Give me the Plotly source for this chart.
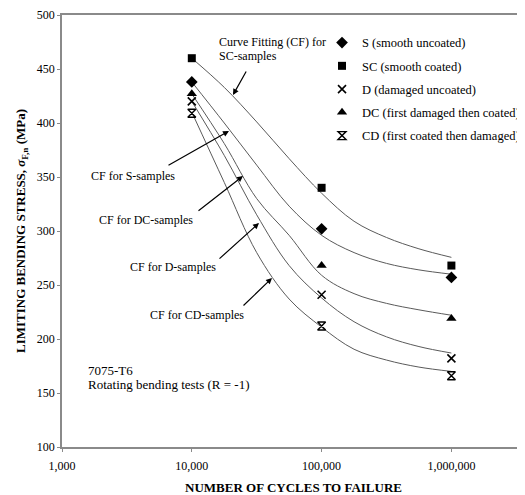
import plotly.graph_objects as go

# ---- data ----
cycles = [1e4, 1e5, 1e6]
S_pts = [438, 302, 257]
SC_pts = [460, 340, 268]
D_pts = [420, 241, 182]
DC_pts = [427, 268, 219]
CD_pts = [409, 212, 166]

# curve-fit lines (log10 N grid)
fit_logN = [4.0, 4.25, 4.5, 4.75, 5.0, 5.25, 5.5, 5.75, 6.0]
S_fit = [438, 400, 361, 323, 296, 280, 270, 264, 260]
SC_fit = [460, 433, 401, 367, 335, 309, 294, 283.5, 275.6]
D_fit = [420, 370, 315, 268, 238, 216, 202, 193, 187]
DC_fit = [427, 381, 330, 296, 259, 242, 233, 227, 222]
CD_fit = [410, 345, 280, 237, 211, 190.5, 180.5, 174, 170]

x_tickvals = [1e3, 1e4, 1e5, 1e6]
x_ticktext = ["1,000", "10,000", "100,000", "1,000,000"]
y_tickvals = [100, 150, 200, 250, 300, 350, 400, 450, 500]

series = [
    ("S (smooth uncoated)", S_pts, S_fit, "diamond", 9, 0),
    ("SC (smooth coated)", SC_pts, SC_fit, "square", 8, 0),
    ("D (damaged uncoated)", D_pts, D_fit, "x-thin-open", 8, 1.6),
    ("DC (first damaged then coated)", DC_pts, DC_fit, "triangle-up", 9, 0),
    ("CD (first coated then damaged)", CD_pts, CD_fit, "hourglass-open", 8, 1.4),
]

FONT = "Liberation Serif, Times New Roman, serif"

# page has an 8px body margin: the figure is drawn from (8, 8)
OFF = 8

fig = go.Figure()
fit_x = [10 ** v for v in fit_logN]
for name, pts, fit, sym, size, lw in series:
    fig.add_trace(go.Scatter(x=fit_x, y=fit, mode="lines", line=dict(color="#5a5a5a", width=1, shape="spline"),
                             showlegend=False, hoverinfo="skip"))
for i, (name, pts, fit, sym, size, lw) in enumerate(series):
    fig.add_trace(go.Scatter(x=cycles, y=pts, mode="markers", name=name, legendgroup="g%d" % i,
                             marker=dict(symbol=sym, size=size, color="black",
                                         line=dict(color="black", width=lw))))

# annotations (positions in window pixels converted to paper fractions)
W, H = 463.0, 432.0
def px(xp, yp):
    return (xp - 62) / W, (447 - yp) / H

texts = [
    ("Curve Fitting (CF) for", 217, 42, 12),
    ("SC-samples", 217, 56, 12),
    ("CF for S-samples", 89, 176, 12),
    ("CF for DC-samples", 97, 220, 12),
    ("CF for D-samples", 128, 267, 12),
    ("CF for CD-samples", 148, 315, 12),
    ("7075-T6", 86, 370, 13),
    ("Rotating bending tests (R = -1)", 86, 384, 13),
]
annotations = []
for t, xp, yp, fs in texts:
    xx, yy = px(xp, yp)
    annotations.append(dict(text=t, x=xx, y=yy, xref="paper", yref="paper", xanchor="left", yanchor="middle",
                            showarrow=False, font=dict(family=FONT, size=fs, color="black")))
arrows = [((233, 95), (247, 70)), ((229, 131), (167, 166)), ((243, 176), (197, 212)),
          ((259, 223), (218, 260)), ((272, 278), (242, 307))]
for (hx, hy), (tx, ty) in arrows:
    xx, yy = px(hx, hy)
    annotations.append(dict(text="", x=xx, y=yy, xref="paper", yref="paper", ax=tx - hx, ay=ty - hy,
                            showarrow=True, arrowhead=2, arrowsize=1, arrowwidth=1.2, arrowcolor="black"))

fig.update_layout(
    width=525 - OFF, height=495 - OFF,
    margin=dict(l=62 - OFF, r=0, t=15 - OFF, b=48, autoexpand=False),
    paper_bgcolor="white", plot_bgcolor="white",
    font=dict(family=FONT, size=12, color="black"),
    showlegend=True,
    legend=dict(x=0.5616, y=0.97, xanchor="left", yanchor="top", bgcolor="rgba(0,0,0,0)",
                font=dict(family=FONT, size=12.5, color="black"), tracegroupgap=4),
    annotations=annotations,
)
fig.update_xaxes(type="log", range=[3, 6.567], tickvals=x_tickvals, ticktext=x_ticktext,
                 showline=True, linecolor="#8a8a8a", linewidth=1.5, mirror=True,
                 ticks="outside", ticklen=3, tickcolor="#8a8a8a", showgrid=False, zeroline=False,
                 tickfont=dict(family=FONT, size=12), automargin=False, ticklabelstandoff=4,
                 title=dict(text="<b>NUMBER OF CYCLES TO FAILURE</b>", font=dict(family=FONT, size=13), standoff=11))
fig.update_yaxes(range=[100, 500], tickvals=y_tickvals,
                 showline=True, linecolor="#8a8a8a", linewidth=1.5, mirror=False,
                 ticks="outside", ticklen=3, tickcolor="#8a8a8a", showgrid=False, zeroline=False,
                 tickfont=dict(family=FONT, size=12), automargin=False,
                 title=dict(text="<b>LIMITING BENDING STRESS, <i>σ</i><sub>F,n</sub> (MPa)</b>",
                            font=dict(family=FONT, size=13), standoff=8))

fig.write_html("out.html")
